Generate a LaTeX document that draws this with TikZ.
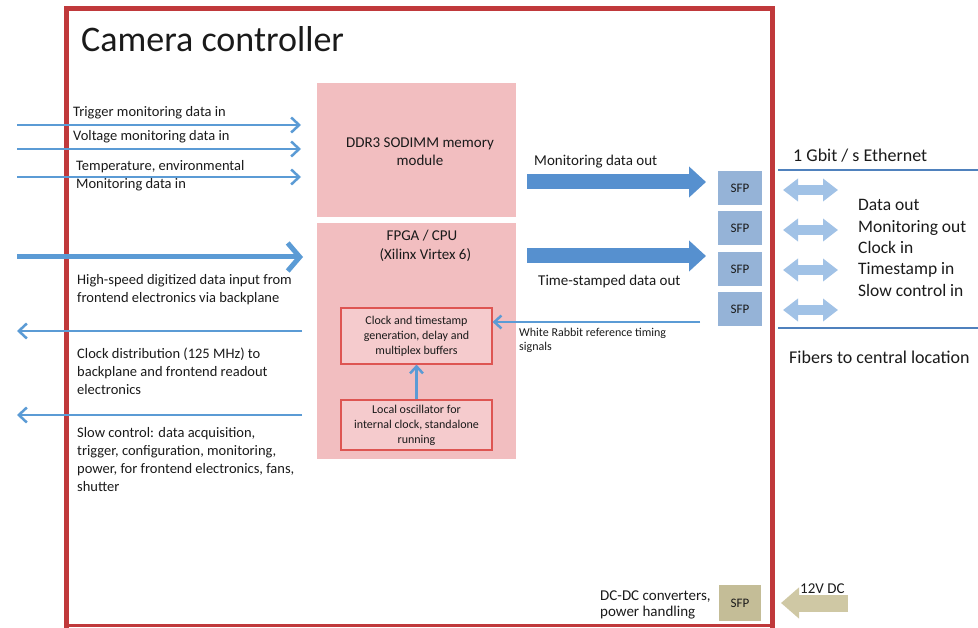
\documentclass[tikz,border=0pt]{standalone}
\usepackage{fontspec}
\setmainfont{Carlito}
\usetikzlibrary{arrows.meta}
\definecolor{frame}{HTML}{C0393B}
\definecolor{pinkbox}{HTML}{F2BEC0}
\definecolor{innerred}{HTML}{DE5552}
\definecolor{arrowblue}{HTML}{5B9BD5}
\definecolor{blockblue}{HTML}{5690CF}
\definecolor{sfpblue}{HTML}{95B3D7}
\definecolor{lightblue}{HTML}{A1C2E6}
\definecolor{lineblue}{HTML}{4F81BD}
\definecolor{tan}{HTML}{C4BD97}
\definecolor{tanarrow}{HTML}{CFC8A4}
\definecolor{ink}{HTML}{1A1A1A}
\begin{document}
\begin{tikzpicture}[x=1pt,y=-1pt,every node/.style={text=ink},
  lbl/.style={anchor=west,align=left,inner sep=0pt,font=\fontsize{14.5}{18}\selectfont},
  rlbl/.style={anchor=west,align=left,inner sep=0pt,font=\fontsize{17.5}{21.3}\selectfont},
  thinarrow/.style={draw=arrowblue,line width=2.5pt,-{Straight Barb[length=8pt,width=15pt,line width=2.5pt]}},
  fatarrow/.style={draw=arrowblue,line width=5pt,-{Straight Barb[length=12pt,width=28pt,line width=5pt]}},
  blockarrow/.style={draw=blockblue,line width=15pt,-{Triangle[length=17pt,width=30pt]}},
  dblarrow/.style={draw=lightblue,line width=10pt,{Triangle[length=15pt,width=22pt]}-{Triangle[length=15pt,width=22pt]}},
  pinkblock/.style={fill=pinkbox,draw=none,minimum width=199pt,inner sep=0pt},
  innerbox/.style={draw=innerred,line width=1.2pt,fill=pinkbox!80!white,minimum width=151pt,align=center,inner sep=0pt,font=\fontsize{12}{15}\selectfont},
  sfp/.style={fill=sfpblue,minimum width=44pt,minimum height=34pt,inner sep=0pt,font=\fontsize{13}{14}\selectfont},
]
\useasboundingbox (0,0) rectangle (978,628);

% outer frame
\draw[frame,line width=5pt] (66,628) -- (66,9) -- (772,9) -- (772,628);
\draw[frame,line width=3pt] (66,625) -- (772,625);
\node[anchor=west,inner sep=0pt,font=\fontsize{36}{40}\selectfont] (title) at (81,39) {Camera controller};

% memory and FPGA blocks
\node[pinkblock,minimum height=134pt] (ddr) at (416.5,150) {};
\node[align=center,font=\fontsize{15}{18}\selectfont] (ddrtxt) at (420,152) {DDR3 SODIMM memory\\module};
\node[pinkblock,minimum height=236pt] (fpga) at (416.5,341) {};
\node[align=center,font=\fontsize{15}{19}\selectfont] (fpgatxt) at (422,246) {FPGA / CPU\\\ \ (Xilinx Virtex 6)};
\node[innerbox,minimum height=56pt] (clk) at (416.5,336) {Clock and timestamp\\generation, delay and\\multiplex buffers};
\node[innerbox,minimum height=50pt] (osc) at (416.5,425) {Local oscillator for\\internal clock, standalone\\running};
\draw[draw=arrowblue,line width=2.5pt,-{Straight Barb[length=7pt,width=13pt,line width=2.5pt]}] (osc.north) -- (clk.south);

% left side inputs and outputs
\coordinate (trgL) at (17,125);  \coordinate (trgR) at (301,125);
\coordinate (volL) at (17,149);  \coordinate (volR) at (301,149);
\coordinate (temL) at (17,177);  \coordinate (temR) at (301,177);
\coordinate (hsL) at (17,257);   \coordinate (hsR) at (303,257);
\coordinate (ckL) at (17,331);   \coordinate (ckR) at (302,331);
\coordinate (scL) at (17,415);   \coordinate (scR) at (302,415);
\draw[thinarrow] (trgL) -- (trgR);
\draw[thinarrow] (volL) -- (volR);
\draw[thinarrow] (temL) -- (temR);
\draw[fatarrow] (hsL) -- (hsR);
\draw[thinarrow] (ckR) -- (ckL);
\draw[thinarrow] (scR) -- (scL);
\node[lbl] (trgtxt) at (73,113) {Trigger monitoring data in};
\node[lbl] (voltxt) at (73,137) {Voltage monitoring data in};
\node[lbl] (temtxt) at (76,176) {Temperature, environmental\\Monitoring data in};
\node[lbl] (hstxt) at (77,290) {High-speed digitized data input from\\frontend electronics via backplane};
\node[lbl] (cktxt) at (77,371) {Clock distribution (125 MHz) to\\backplane and frontend readout\\electronics};
\node[lbl] (sctxt) at (77,460) {Slow control: data acquisition,\\trigger, configuration, monitoring,\\power, for frontend electronics, fans,\\shutter};

% SFP modules
\node[sfp] (sfp1) at (740,188) {SFP};
\node[sfp] (sfp2) at (740,228) {SFP};
\node[sfp] (sfp3) at (740,269) {SFP};
\node[sfp] (sfp4) at (740,309) {SFP};

% data paths towards the SFPs
\coordinate (monS) at (527,182); \coordinate (monE) at (706,182);
\coordinate (tsS) at (527,256);  \coordinate (tsE) at (706,256);
\draw[blockarrow] (monS) -- (monE);
\draw[blockarrow] (tsS) -- (tsE);
\node[anchor=west,inner sep=0pt,font=\fontsize{15}{18}\selectfont] (montxt) at (534,162) {Monitoring data out};
\node[anchor=west,inner sep=0pt,font=\fontsize{15}{18}\selectfont] (tstxt) at (538,282) {Time-stamped data out};
\coordinate (wrS) at (700,322);
\draw[draw=arrowblue,line width=2.5pt,-{Straight Barb[length=7pt,width=13pt,line width=2.5pt]}] (wrS) -- (clk.east |- wrS);
\node[anchor=west,align=left,inner sep=0pt,font=\fontsize{12}{14}\selectfont] (wrtxt) at (519,340) {White Rabbit reference timing\\signals};

% external fibre links
\coordinate (e1L) at (778,170); \coordinate (e1R) at (978,170);
\coordinate (e2L) at (778,328); \coordinate (e2R) at (978,328);
\draw[lineblue,line width=2pt] (e1L) -- (e1R);
\draw[lineblue,line width=2pt] (e2L) -- (e2R);
\node[anchor=west,inner sep=0pt,font=\fontsize{18}{21}\selectfont] (eth) at (793,156) {1 Gbit / s Ethernet};
\node[anchor=west,inner sep=0pt,font=\fontsize{18}{21}\selectfont] (fib) at (789,357) {Fibers to central location};
\coordinate (d1a) at (783,190); \coordinate (d1b) at (838,190);
\coordinate (d2a) at (783,230); \coordinate (d2b) at (838,230);
\coordinate (d3a) at (783,270); \coordinate (d3b) at (838,270);
\coordinate (d4a) at (783,310); \coordinate (d4b) at (838,310);
\draw[dblarrow] (d1a) -- (d1b);
\draw[dblarrow] (d2a) -- (d2b);
\draw[dblarrow] (d3a) -- (d3b);
\draw[dblarrow] (d4a) -- (d4b);
\node[rlbl] (sigs) at (858,248) {Data out\\Monitoring out\\Clock in\\Timestamp in\\Slow control in};

% power input
\node[fill=tan,minimum width=42pt,minimum height=36pt,inner sep=0pt,font=\fontsize{13}{14}\selectfont] (psfp) at (740,603) {SFP};
\node[anchor=west,align=left,inner sep=0pt,font=\fontsize{15}{16}\selectfont] (pwr) at (600,605) {DC-DC converters,\\power handling};
\coordinate (p12S) at (848,603); \coordinate (p12E) at (781,603);
\draw[draw=tanarrow,line width=17pt,-{Triangle[length=18pt,width=30pt]}] (p12S) -- (p12E);
\node[anchor=west,inner sep=0pt,font=\fontsize{15}{16}\selectfont] (v12) at (800,589) {12V DC};
\end{tikzpicture}
\end{document}
